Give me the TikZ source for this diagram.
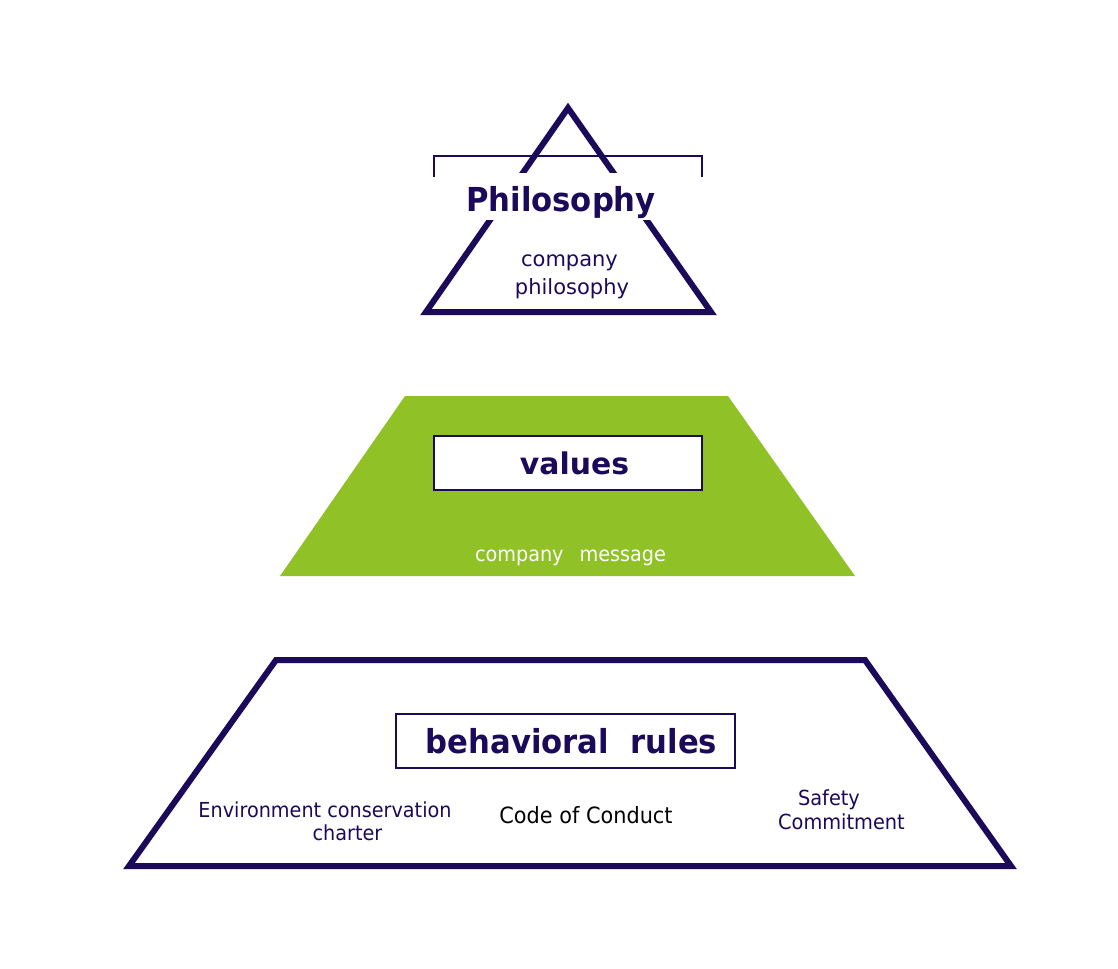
\documentclass[tikz,border=0pt]{standalone}
\usepackage{fontspec}
\setmainfont{DejaVu Sans}
\newfontfamily\narrowfont[FakeStretch=0.93]{DejaVu Sans}
\definecolor{navy}{RGB}{27,10,90}
\definecolor{leaf}{RGB}{144,193,38}
\tikzset{
  thickline/.style={draw=navy, line width=4.5pt, line join=miter},
  thinbox/.style={draw=navy, line width=1.5pt, fill=white},
  headtext/.style={text=navy, anchor=base, inner sep=0pt},
  bodytext/.style={text=navy, inner sep=0pt, anchor=base},
}
\begin{document}
\begin{tikzpicture}[x=0.75pt, y=-0.75pt]
\useasboundingbox (0,0) rectangle (1118,968);

% ---- Philosophy triangle ----
\coordinate (bl) at (434,177);
\coordinate (br) at (702,177);
\draw[navy, line width=1.5pt] (bl) -- (434,156) -- (702,156) -- (br);
\draw[thickline] (568,108) -- (711,312) -- (426,312) -- cycle;
\node[headtext, fill=white, inner xsep=4pt,
      text height=28.5pt, text depth=6.75pt, font=\narrowfont\fontsize{24.75pt}{29pt}\selectfont\bfseries]
      (phil) at (561,211) {Philosophy};
\node[bodytext, font=\fontsize{15.75pt}{20pt}\selectfont] (cphil1) at (569.5,266.7) {company};
\node[bodytext, font=\fontsize{15.75pt}{20pt}\selectfont] (cphil2) at (572,294) {philosophy};

% ---- values trapezoid ----
\fill[leaf] (405,396) -- (728,396) -- (855,576) -- (280,576) -- cycle;
\node[thinbox, minimum width=201pt, minimum height=40.5pt, inner sep=0pt] (valbox) at (567.5,463) {};
\node[headtext, font=\fontsize{22.4pt}{26pt}\selectfont\bfseries] (val) at (574.5,474) {values};
\node[bodytext, text=white, font=\narrowfont\fontsize{15.5pt}{18pt}\selectfont] (msg) at (570.5,561.7) {company\hspace{12pt}message};

% ---- behavioral rules trapezoid ----
\draw[thickline] (276,660) -- (865,660) -- (1011,866) -- (129,866) -- cycle;
\node[thinbox, minimum width=254.25pt, minimum height=40.5pt, inner sep=0pt] (rulebox) at (565.5,741) {};
\node[headtext, font=\narrowfont\fontsize{24.75pt}{29pt}\selectfont\bfseries] (rules) at (571.5,753) {behavioral\hspace{16pt}rules};

\node[bodytext, font=\narrowfont\fontsize{15.5pt}{18pt}\selectfont] (env) at (325,817.7) {Environment conservation};
\node[bodytext, font=\narrowfont\fontsize{15.5pt}{18pt}\selectfont] (charter) at (347.5,840) {charter};
\node[bodytext, text=black, font=\narrowfont\fontsize{16.8pt}{19pt}\selectfont] (code) at (586,823) {Code of Conduct};
\node[bodytext, font=\narrowfont\fontsize{15.6pt}{18pt}\selectfont] (safety) at (829,805) {Safety};
\node[bodytext, font=\narrowfont\fontsize{15.6pt}{18pt}\selectfont] (commit) at (841.5,829) {Commitment};
\end{tikzpicture}
\end{document}
